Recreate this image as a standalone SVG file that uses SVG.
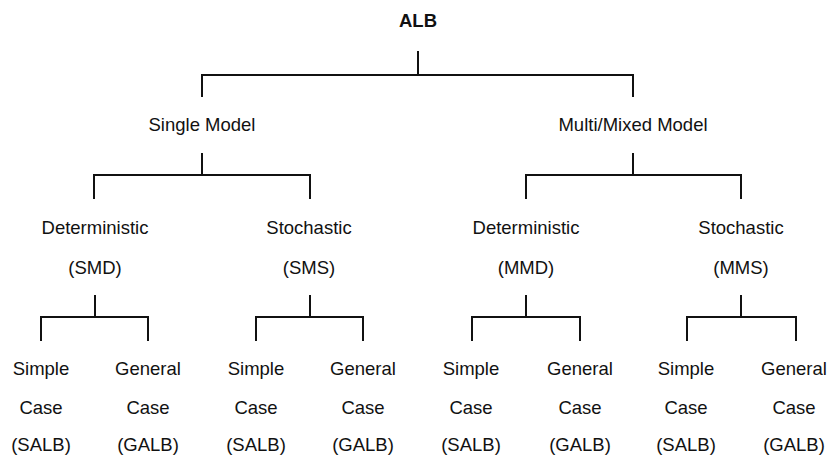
<svg xmlns="http://www.w3.org/2000/svg" width="828" height="457" viewBox="0 0 828 457">
<style>
text{font-family:"Liberation Sans",Arial,sans-serif;font-size:18.5px;fill:#111;text-anchor:middle}
.b{font-weight:bold}
.c{fill:none;stroke:#111;stroke-width:2}
</style>
<rect width="828" height="457" fill="#fff"/>
<g id="connectors">
<path class="c" d="M418 51V75M202 97V75H633V97"/>
<path class="c" d="M202 153V175M94 199V175H310V199"/>
<path class="c" d="M633 153V175M526 199V175H741V199"/>
<path class="c" d="M95 295V317M41 341V317H148V341"/>
<path class="c" d="M310 295V317M256 341V317H363V341"/>
<path class="c" d="M526 295V317M472 341V317H580V341"/>
<path class="c" d="M741 295V317M687 341V317H796V341"/>
</g>
<g id="alb"><text class="b" x="418" y="27">ALB</text></g>
<g id="single"><text x="202" y="131">Single Model</text></g>
<g id="multi"><text x="633" y="131">Multi/Mixed Model</text></g>
<g id="smd"><text x="95" y="234">Deterministic</text><text x="95" y="274">(SMD)</text></g>
<g id="sms"><text x="309" y="234">Stochastic</text><text x="309" y="274">(SMS)</text></g>
<g id="mmd"><text x="526" y="234">Deterministic</text><text x="526" y="274">(MMD)</text></g>
<g id="mms"><text x="741" y="234">Stochastic</text><text x="741" y="274">(MMS)</text></g>
<g id="smd-salb"><text x="41" y="375">Simple</text><text x="41" y="414">Case</text><text x="41" y="451">(SALB)</text></g>
<g id="smd-galb"><text x="148" y="375">General</text><text x="148" y="414">Case</text><text x="148" y="451">(GALB)</text></g>
<g id="sms-salb"><text x="256" y="375">Simple</text><text x="256" y="414">Case</text><text x="256" y="451">(SALB)</text></g>
<g id="sms-galb"><text x="363" y="375">General</text><text x="363" y="414">Case</text><text x="363" y="451">(GALB)</text></g>
<g id="mmd-salb"><text x="471" y="375">Simple</text><text x="471" y="414">Case</text><text x="471" y="451">(SALB)</text></g>
<g id="mmd-galb"><text x="580" y="375">General</text><text x="580" y="414">Case</text><text x="580" y="451">(GALB)</text></g>
<g id="mms-salb"><text x="686" y="375">Simple</text><text x="686" y="414">Case</text><text x="686" y="451">(SALB)</text></g>
<g id="mms-galb"><text x="794" y="375">General</text><text x="794" y="414">Case</text><text x="794" y="451">(GALB)</text></g>
</svg>
